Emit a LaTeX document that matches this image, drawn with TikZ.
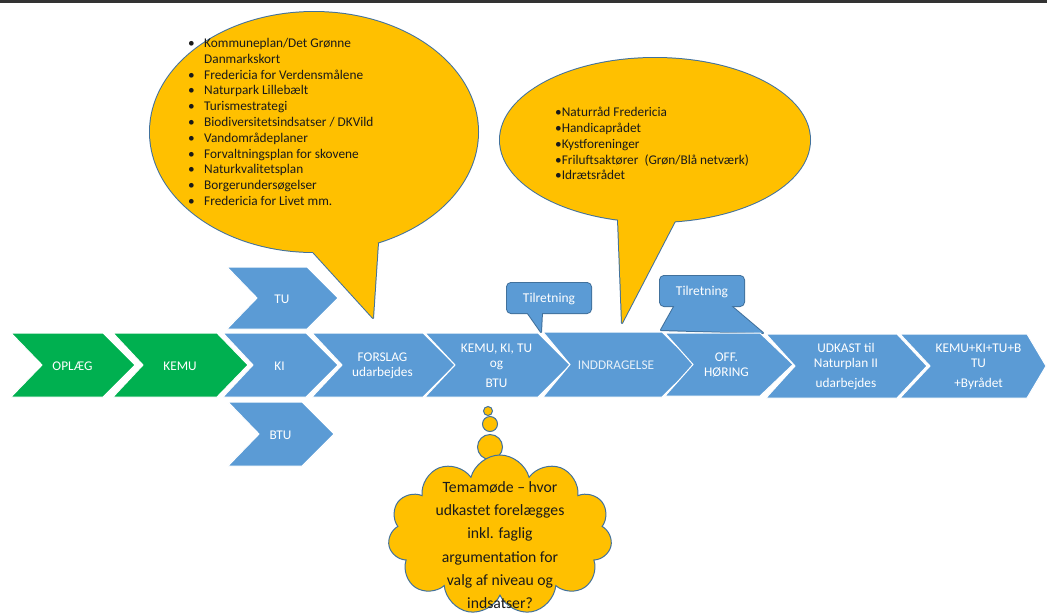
\documentclass[tikz,border=0pt]{standalone}
\usepackage{fontspec}
\setmainfont{Carlito}
\usetikzlibrary{shapes.symbols}
\definecolor{cgreen}{HTML}{00B050}
\definecolor{cblue}{HTML}{5B9BD5}
\definecolor{cyell}{HTML}{FFC000}
\definecolor{cline}{HTML}{41719C}
\definecolor{ctext}{HTML}{1A1A1A}
% name, x1, x2, tip, notch, ytop, ybot, colour, text
\newcommand{\chevron}[9]{%
  \path[fill=#8, draw=white, line width=1pt, line join=miter]
    (#2,#6) -- (#3,#6) -- (#4,{(#6+#7)/2}) -- (#3,#7) -- (#2,#7) -- (#5,{(#6+#7)/2}) -- cycle;
  \node[chevtext] (#1) at ({(#5+#3)/2},{(#6+#7)/2+1}) {#9};
}
\begin{document}
\begin{tikzpicture}[x=1pt,y=-1pt,
  chevtext/.style={text=white, font=\fontsize{13.3}{15}\selectfont, align=center, inner sep=0pt},
  bubtext/.style={text=ctext, font=\fontsize{13.3}{15.8}\selectfont, align=left, inner sep=0pt, anchor=north west},
  outl/.style={draw=cline, line width=2pt, line join=round},
  calltext/.style={text=white, font=\fontsize{13.5}{15}\selectfont, inner sep=0pt},
  thought/.style={circle, draw=cline, fill=cyell, line width=1pt, inner sep=0pt},
]
\useasboundingbox (0,0) rectangle (1047,614);
\fill[white] (0,0) rectangle (1047,614);
\fill[black!80] (0,0) rectangle (1047,2.5);

% left speech bubble
\draw[outl] (314,132) ellipse [x radius=164pt, y radius=120pt];
\draw[outl] (313,252) -- (373,318) -- (378,242.5) -- cycle;
\fill[cyell] (314,132) ellipse [x radius=164pt, y radius=120pt];
\fill[cyell] (313,252) -- (373,318) -- (378,242.5) -- cycle;
\node[bubtext] (list1) at (188,38) {%
\makebox[16pt][l]{•}Kommuneplan/Det Grønne\\
\hspace*{16pt}Danmarkskort\\
\makebox[16pt][l]{•}Fredericia for Verdensmålene\\
\makebox[16pt][l]{•}Naturpark Lillebælt\\
\makebox[16pt][l]{•}Turismestrategi\\
\makebox[16pt][l]{•}Biodiversitetsindsatser / DKVild\\
\makebox[16pt][l]{•}Vandområdeplaner\\
\makebox[16pt][l]{•}Forvaltningsplan for skovene\\
\makebox[16pt][l]{•}Naturkvalitetsplan\\
\makebox[16pt][l]{•}Borgerundersøgelser\\
\makebox[16pt][l]{•}Fredericia for Livet mm.};

% right speech bubble
\draw[outl] (655,140) ellipse [x radius=155pt, y radius=82pt];
\draw[outl] (618,219) -- (622,323) -- (675,221) -- cycle;
\fill[cyell] (655,140) ellipse [x radius=155pt, y radius=82pt];
\fill[cyell] (618,219) -- (622,323) -- (675,221) -- cycle;
\node[bubtext] (list2) at (555,107) {%
•Naturråd Fredericia\\
•Handicaprådet\\
•Kystforeninger\\
•Friluftsaktører\ \ (Grøn/Blå netværk)\\
•Idrætsrådet};

% callouts
\draw[outl, rounded corners=4pt] (507,283) rectangle (591,313);
\draw[outl] (527,312) -- (541,332) -- (542,312) -- cycle;
\fill[cblue, rounded corners=4pt] (507,283) rectangle (591,313);
\fill[cblue] (527,312) -- (541,332) -- (542,312) -- cycle;
\node[calltext] (call1) at (549,299) {Tilretning};

\draw[outl, rounded corners=4pt] (660,276) rectangle (744,306);
\draw[outl] (675,305) -- (661,330) -- (763,333) -- (730,305) -- cycle;
\fill[cblue, rounded corners=4pt] (660,276) rectangle (744,306);
\fill[cblue] (675,305) -- (661,330) -- (763,333) -- (730,305) -- cycle;
\node[calltext] (call2) at (702,292) {Tilretning};

% chevrons
\chevron{oplaeg}{11}{103}{135}{42}{333}{397}{cgreen}{OPLÆG}
\chevron{kemu}{113}{217}{248}{143}{333}{397}{cgreen}{KEMU}
\chevron{ki}{223}{306}{338}{253}{333}{397}{cblue}{KI}
\chevron{tu}{227}{307}{338}{257}{267}{329}{cblue}{TU}
\chevron{btu}{228}{302}{334}{259}{402}{466}{cblue}{BTU}
\chevron{forslag}{312}{423}{455}{342}{333}{397}{cblue}{FORSLAG\\udarbejdes}
\chevron{kkt}{425}{538}{570}{455}{333}{397}{cblue}{KEMU, KI, TU\\og\\[5pt]BTU}
\chevron{indd}{543}{662}{695}{570}{332}{397}{cblue}{\textcolor{white!85!cblue}{INDDRAGELSE}}
\chevron{off}{665}{760}{793}{693}{333}{396}{cblue}{OFF.\\HØRING}
\chevron{udkast}{766}{897}{927}{795}{334}{398}{cblue}{UDKAST til\\Naturplan II\\[5pt]udarbejdes}
\chevron{final}{900}{1027}{1046}{930}{334}{398}{cblue}{KEMU+KI+TU+B\\TU\\[5pt]+Byrådet}

% thought cloud
\node[thought, minimum size=9pt] (t1) at (488,411) {};
\node[thought, minimum size=15pt] (t2) at (490,424) {};
\node[thought, minimum size=25pt] (t3) at (490,447) {};
\node[cloud, cloud puffs=11, cloud ignores aspect, draw=cline, fill=cyell, line width=1pt,
      minimum width=224pt, minimum height=160pt, inner sep=0pt] (cloud) at (500,535) {};
\node[text=ctext, font=\fontsize{15.7}{23.3}\selectfont, align=center, inner sep=0pt, anchor=north] (cloudtext) at (500,481) {Temamøde – hvor\\udkastet forelægges\\inkl. faglig\\argumentation for\\valg af niveau og\\indsatser?};
\end{tikzpicture}
\end{document}
